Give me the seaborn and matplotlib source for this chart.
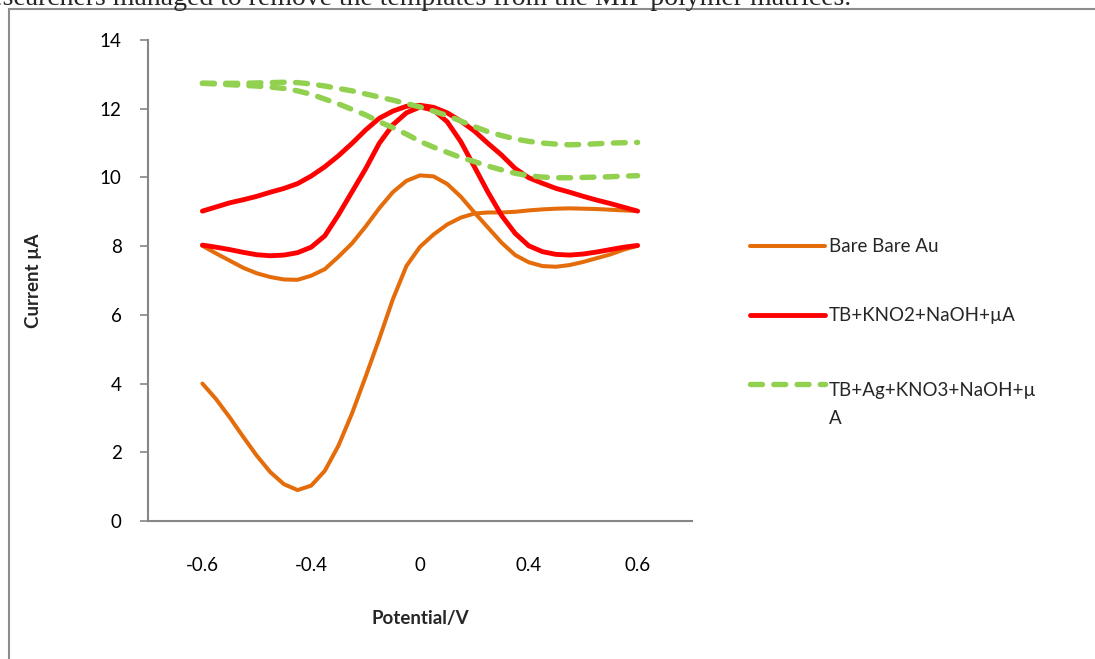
import numpy as np
import pandas as pd
import matplotlib.pyplot as plt
from matplotlib.lines import Line2D
from matplotlib.patches import Rectangle
import seaborn as sns

# Category axis labels (Excel style line chart)
categories = ["-0.6", "-0.4", "0", "0.4", "0.6"]
# positions where the curves were read, in 1/8 category steps
x_pos = np.linspace(0, 4, 33)

# Values (two branches per voltammogram)
bare_lower = [4.0, 3.55, 3.02, 2.45, 1.90, 1.42, 1.07, 0.90, 1.03, 1.46, 2.19, 3.13, 4.2,
              5.3, 6.45, 7.42, 7.98, 8.34, 8.63, 8.83, 8.95, 8.98, 8.98, 9.0, 9.04, 9.07,
              9.09, 9.10, 9.09, 9.08, 9.06, 9.04, 9.02]
bare_upper = [8.01, 7.79, 7.58, 7.37, 7.21, 7.10, 7.03, 7.02, 7.14, 7.33, 7.69, 8.08, 8.57,
              9.10, 9.57, 9.90, 10.06, 10.03, 9.81, 9.44, 8.98, 8.54, 8.10, 7.74, 7.53, 7.42,
              7.40, 7.45, 7.54, 7.65, 7.76, 7.90, 8.01]
kno2_upper = [9.02, 9.14, 9.26, 9.35, 9.45, 9.57, 9.68, 9.82, 10.04, 10.31, 10.63, 10.99, 11.38,
              11.72, 11.93, 12.07, 12.1, 12.04, 11.88, 11.64, 11.35, 10.99, 10.65, 10.26, 9.99,
              9.83, 9.68, 9.57, 9.45, 9.34, 9.24, 9.13, 9.02]
kno2_lower = [8.03, 7.97, 7.90, 7.82, 7.75, 7.72, 7.74, 7.81, 7.97, 8.30, 8.91, 9.58, 10.25,
              10.99, 11.53, 11.88, 12.05, 11.96, 11.62, 11.04, 10.31, 9.57, 8.89, 8.37, 8.01,
              7.84, 7.76, 7.74, 7.77, 7.83, 7.90, 7.97, 8.02]
kno3_upper = [12.74, 12.74, 12.74, 12.74, 12.75, 12.76, 12.77, 12.76, 12.72, 12.66, 12.59, 12.52,
              12.43, 12.34, 12.25, 12.15, 12.05, 11.93, 11.80, 11.64, 11.48, 11.33, 11.22, 11.12,
              11.05, 11.0, 10.97, 10.95, 10.96, 10.98, 11.0, 11.01, 11.02]
kno3_lower = [12.74, 12.72, 12.70, 12.68, 12.66, 12.63, 12.59, 12.52, 12.42, 12.28, 12.14, 11.98,
              11.82, 11.62, 11.45, 11.26, 11.05, 10.88, 10.73, 10.58, 10.46, 10.33, 10.22, 10.12,
              10.05, 10.01, 9.99, 9.99, 10.0, 10.01, 10.02, 10.04, 10.05]

series_names = ["Bare Bare Au", "TB+KNO2+NaOH+\u00b5A", "TB+Ag+KNO3+NaOH+\u00b5\nA"]

sns.set_theme(style="white")
plt.rcParams['font.family'] = ['Lato', 'DejaVu Sans']

orange = "#E46C0A"
red = "#FF0000"
green = "#92D050"
gray = "#868686"
dash = (0, (2.2, 2.1))

styles = [
    dict(color=orange, lw=2.9, linestyle="-", solid_capstyle="round", solid_joinstyle="round"),
    dict(color=red, lw=3.5, linestyle="-", solid_capstyle="round", solid_joinstyle="round"),
    dict(color=green, lw=3.9, linestyle=dash, dash_capstyle="round", dash_joinstyle="round"),
]

branches = [
    (bare_lower, 0), (bare_upper, 0),
    (kno2_upper, 1), (kno2_lower, 1),
    (kno3_upper, 2), (kno3_lower, 2),
]

fig = plt.figure(figsize=(10.95, 6.59), dpi=100)
ax = fig.add_axes([148 / 1095, 1 - 521 / 659, 544 / 1095, 481 / 659])

for vals, s in branches:
    sns.lineplot(x=x_pos, y=vals, ax=ax, legend=False, sort=False, **styles[s])

ax.set_xlim(-0.5, 4.5)
ax.set_ylim(0, 14)
ax.set_xticks(range(len(categories)))
ax.set_xticklabels(categories)
ax.set_yticks(range(0, 15, 2))

for side in ["top", "right"]:
    ax.spines[side].set_visible(False)
for side in ["left", "bottom"]:
    ax.spines[side].set_color(gray)
    ax.spines[side].set_linewidth(1.5)

ax.tick_params(axis="y", direction="out", length=6, width=1.2, color=gray,
               left=True, labelsize=13.5, pad=13, labelcolor="black")
ax.tick_params(axis="x", length=0, labelsize=13.5, pad=26, labelcolor="black")

ax.set_xlabel("Potential/V", fontsize=13.5, fontweight="bold")
ax.xaxis.set_label_coords(0.5, -0.186)
ax.set_ylabel("Current \u00b5A", fontsize=13.5, fontweight="bold")
ax.yaxis.set_label_coords(-0.194, 0.5)

# legend drawn by hand so the wrapped label keeps its key on the first line
W, H = 1095, 659
fs = 13.5
line_gap = 1.8 * fs * 100 / 72  # pixels between wrapped lines
key_rows = [246, 315, 384]
for st, name, row in zip(styles, series_names, key_rows):
    fig.add_artist(Line2D([750 / W, 825 / W], [1 - row / H, 1 - row / H],
                          transform=fig.transFigure, **st))
    base = row + 6 + line_gap * name.count("\n")
    fig.text(829 / W, 1 - base / H, name, ha="left", va="baseline",
             fontsize=fs, linespacing=1.8)

# chart area border and the cut-off line of text above it
fig.patches.append(Rectangle((9 / W, -0.1), 1.2, 1 - 9 / H + 0.1,
                             transform=fig.transFigure, fill=False,
                             edgecolor="#8c8c8c", lw=1.5))
fig.text(851 / W, 1 - 5 / H,
         "researchers managed to remove the templates from the MIP polymer matrices.",
         ha="right", va="baseline", family="Liberation Serif", fontsize=20)

fig.savefig("out.png", dpi=100)
